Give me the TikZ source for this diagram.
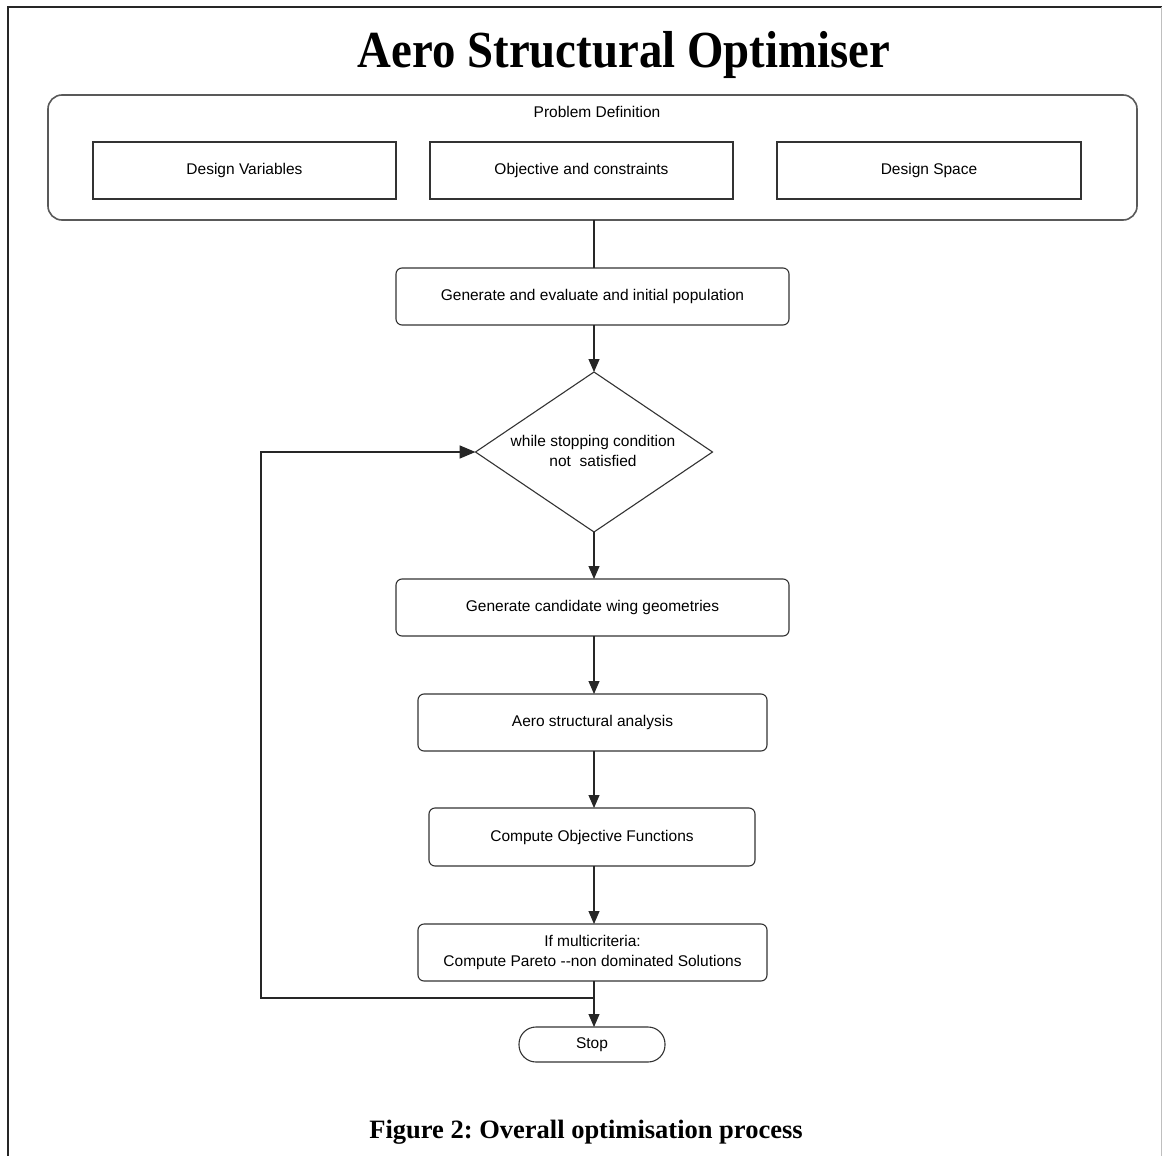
\documentclass[tikz,border=0pt]{standalone}
\usepackage{fontspec}
\setmainfont{Liberation Serif}
\newfontfamily\titlefont[FakeStretch=0.9]{Liberation Serif}
\newfontfamily\boxfont{Liberation Sans}
\usetikzlibrary{shapes.geometric,arrows.meta}
\begin{document}
\begin{tikzpicture}[x=1pt,y=-1pt,
  every node/.style={inner sep=0pt, outer sep=0pt},
  txt/.style={font=\boxfont\fontsize{15.5}{20}\selectfont, align=center},
  sq/.style={draw=black!80, line width=1.1pt, txt},
  rbox/.style={draw=black!80, line width=1.1pt, rounded corners=6pt, txt},
  conn/.style={draw=black!85, line width=1.1pt},
  arr/.style={conn, -{Triangle[length=13pt,width=11pt]}},
  bigarr/.style={conn, line width=1.6pt, -{Triangle[length=16pt,width=13pt]}}]
\useasboundingbox (0,0) rectangle (1162,1156);
\fill[white] (0,0) rectangle (1162,1156);
% page frame
\draw[line width=2pt, black!85] (8,1156) -- (8,7) -- (1162,7);
\draw[line width=1pt, black!25] (1161,7) -- (1161,1156);
% title
\node (title) at (624,55) {\titlefont\fontsize{52}{60}\selectfont\bfseries Aero Structural Optimiser};
% problem definition
\node[draw=black!65, line width=1.6pt, rounded corners=14pt, minimum width=1089pt, minimum height=125pt] (pd) at (592.5,157.5) {};
\node[txt] (pdl) at (597,112) {Problem Definition};
\node[sq, minimum width=303pt, minimum height=57pt] (dv) at (244.5,170.5) {Design Variables};
\node[sq, minimum width=303pt, minimum height=57pt] (oc) at (581.5,170.5) {Objective and constraints};
\node[sq, minimum width=304pt, minimum height=57pt] (ds) at (929,170.5) {Design Space};
% flow boxes
\node[rbox, minimum width=393pt, minimum height=57pt] (gen) at (592.5,296.5) {Generate and evaluate and initial population};
\node[diamond, draw=black!80, line width=1.1pt, minimum width=237pt, minimum height=160pt, aspect=1.48, txt] (dia) at (594,452) {};
\node[txt] (dial) at (593,451) {while stopping condition\\not\ \ satisfied};
\node[rbox, minimum width=393pt, minimum height=57pt] (cand) at (592.5,607.5) {Generate candidate wing geometries};
\node[rbox, minimum width=349pt, minimum height=57pt] (aero) at (592.5,722.5) {Aero structural analysis};
\node[rbox, minimum width=326pt, minimum height=58pt] (obj) at (592,837) {Compute Objective Functions};
\node[rbox, minimum width=349pt, minimum height=57pt] (par) at (592.5,952.5) {If multicriteria:\\Compute Pareto --non dominated Solutions};
\node[draw=black!80, line width=1.1pt, rounded corners=17pt, minimum width=146pt, minimum height=35pt, txt] (stop) at (592,1044.5) {Stop};
% caption
\node (cap) at (586,1132) {\frenchspacing\fontsize{26.5}{32}\selectfont\bfseries Figure 2: Overall optimisation process};
% connectors
\coordinate (j) at (594,998);
\coordinate (lc) at (261,998);
\coordinate (lt) at (261,452);
\draw[conn] (594,220) -- (594,268);
\draw[arr] (594,325) -- (dia.north);
\draw[arr] (dia.south) -- (594,579);
\draw[arr] (594,636) -- (594,694);
\draw[arr] (594,751) -- (594,808);
\draw[arr] (594,866) -- (594,924);
\draw[arr] (594,981) -- (594,1027);
\draw[bigarr] (j) -- (lc) -- (lt) -- (dia.west);
\end{tikzpicture}
\end{document}
